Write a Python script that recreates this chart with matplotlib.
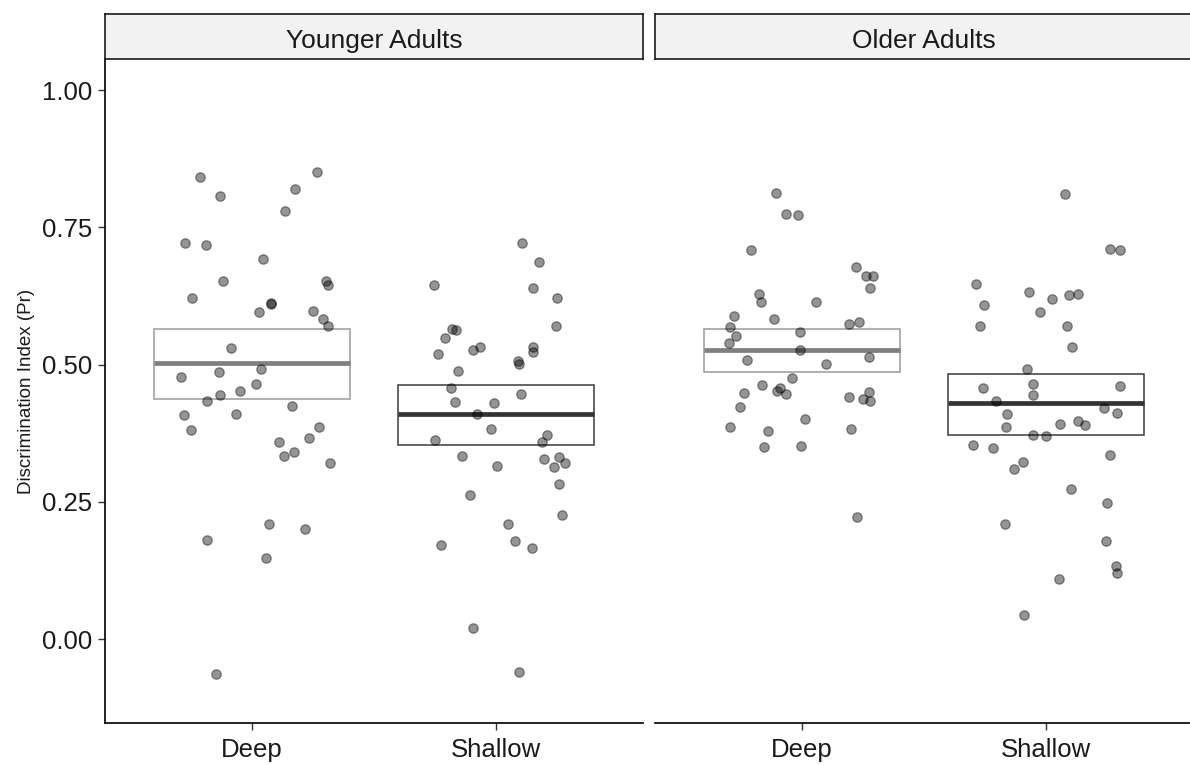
import matplotlib
matplotlib.use("Agg")
from matplotlib import pyplot as plt

groups = ["Younger Adults", "Older Adults"]
conditions = ["Deep", "Shallow"]

# jittered x positions (category 1 = Deep, 2 = Shallow) and Pr values
young_deep_x = [0.788, 1.266, 0.870, 1.178, 1.136, 0.728, 0.811, 1.047, 0.881, 1.305,
                1.312, 0.757, 1.079, 1.079, 1.029, 1.249, 1.290, 1.312, 0.917, 0.866,
                1.036, 0.711, 1.019, 0.953, 0.870, 0.818, 1.166, 0.722, 0.936, 0.752,
                1.277, 1.112, 1.235, 1.130, 1.173, 1.319, 1.071, 1.219, 0.818, 1.060, 0.853]
young_deep_y = [0.841, 0.850, 0.807, 0.820, 0.779, 0.721, 0.718, 0.693, 0.652, 0.652,
                0.645, 0.621, 0.612, 0.611, 0.596, 0.598, 0.583, 0.571, 0.530, 0.487,
                0.492, 0.477, 0.465, 0.452, 0.444, 0.434, 0.425, 0.408, 0.410, 0.380,
                0.387, 0.359, 0.366, 0.333, 0.341, 0.321, 0.209, 0.201, 0.181, 0.147, -0.064]

young_shallow_x = [2.106, 2.175, 1.746, 2.151, 2.249, 2.243, 1.819, 1.836, 1.792, 1.905,
                   1.934, 1.762, 2.151, 2.151, 2.088, 2.094, 1.843, 1.814, 2.100, 1.833,
                   1.991, 1.921, 1.980, 1.751, 2.209, 2.186, 1.860, 2.002, 2.197, 2.256,
                   2.236, 2.279, 2.256, 1.894, 2.270, 2.048, 1.773, 2.077, 2.145, 1.906, 2.094]
young_shallow_y = [0.721, 0.687, 0.644, 0.639, 0.621, 0.570, 0.565, 0.563, 0.548, 0.526,
                   0.532, 0.519, 0.532, 0.522, 0.507, 0.501, 0.489, 0.458, 0.446, 0.432,
                   0.430, 0.410, 0.382, 0.362, 0.372, 0.359, 0.333, 0.315, 0.328, 0.331,
                   0.313, 0.321, 0.282, 0.262, 0.226, 0.209, 0.171, 0.178, 0.165, 0.020, -0.061]

old_deep_x = [0.896, 0.936, 0.986, 0.791, 1.221, 1.262, 1.290, 1.279, 0.827, 0.832,
              1.060, 0.724, 0.885, 0.708, 1.192, 1.233, 0.993, 0.731, 0.701, 0.993,
              0.778, 1.274, 1.101, 0.959, 0.839, 0.764, 0.911, 0.900, 0.936, 1.192,
              1.274, 1.251, 1.279, 0.748, 1.015, 0.707, 0.862, 1.203, 0.845, 0.998, 1.227]
old_deep_y = [0.812, 0.774, 0.772, 0.708, 0.677, 0.662, 0.662, 0.639, 0.628, 0.613,
              0.614, 0.588, 0.583, 0.568, 0.573, 0.577, 0.560, 0.552, 0.540, 0.527,
              0.509, 0.514, 0.501, 0.476, 0.463, 0.449, 0.457, 0.452, 0.446, 0.440,
              0.450, 0.438, 0.433, 0.423, 0.400, 0.387, 0.379, 0.382, 0.349, 0.352, 0.222]

old_shallow_x = [2.077, 2.261, 2.302, 1.713, 1.930, 2.022, 2.094, 2.131, 1.747, 1.976,
                 1.729, 2.084, 2.107, 1.923, 1.742, 1.947, 1.947, 2.302, 1.793, 2.238,
                 2.290, 1.838, 1.834, 2.056, 2.130, 2.157, 1.947, 1.998, 1.702, 1.781,
                 2.261, 1.906, 1.867, 2.101, 2.250, 1.833, 2.245, 2.284, 2.290, 2.050, 1.908]
old_shallow_y = [0.810, 0.710, 0.708, 0.647, 0.632, 0.619, 0.626, 0.628, 0.608, 0.596,
                 0.570, 0.570, 0.532, 0.491, 0.458, 0.464, 0.445, 0.461, 0.433, 0.420,
                 0.412, 0.410, 0.387, 0.392, 0.398, 0.389, 0.371, 0.369, 0.353, 0.348,
                 0.336, 0.323, 0.310, 0.273, 0.247, 0.209, 0.179, 0.133, 0.120, 0.109, 0.043]

# mean and interval (lower, upper) per group x condition
young_mean = [0.503, 0.409]
young_low = [0.438, 0.353]
young_high = [0.565, 0.463]
old_mean = [0.526, 0.429]
old_low = [0.486, 0.371]
old_high = [0.565, 0.483]

yticks = [0.00, 0.25, 0.50, 0.75, 1.00]

plt.rcParams["font.family"] = ["Liberation Sans", "DejaVu Sans"]

fig = plt.figure(figsize=(11.9, 7.65), dpi=100)
W, H = 1190, 765
panel_l = [105, 655]
panel_w = 538
panel_top, panel_bot = 59, 723
strip_top = 14

box_edge = ["#9a9a9a", "#3a3a3a"]
mean_col = ["#7f7f7f", "#333333"]

panels = [
    (young_deep_x, young_deep_y, young_shallow_x, young_shallow_y, young_mean, young_low, young_high),
    (old_deep_x, old_deep_y, old_shallow_x, old_shallow_y, old_mean, old_low, old_high),
]

for i, (dx, dy, sx, sy, mean, low, high) in enumerate(panels):
    ax = fig.add_axes([panel_l[i] / W, 1 - panel_bot / H, panel_w / W, (panel_bot - panel_top) / H])
    ax.set_xlim(0.4, 2.6)
    ax.set_ylim(-0.153, 1.0565)
    for j in range(2):
        ax.bar(j + 1, high[j] - low[j], bottom=low[j], width=0.8, fill=False,
               edgecolor=box_edge[j], linewidth=1.1, zorder=2)
        ax.hlines(mean[j], j + 1 - 0.4, j + 1 + 0.4, color=mean_col[j], linewidth=3.4, zorder=3)
    ax.scatter(dx + sx, dy + sy, s=46, color="black", alpha=0.42, linewidths=0.9, zorder=4)

    ax.set_xticks([1, 2])
    ax.set_xticklabels(conditions, fontsize=18.5, color="#1a1a1a")
    ax.tick_params(axis="x", length=5, width=1, color="#333333", pad=6)
    for s in ["top", "right"]:
        ax.spines[s].set_visible(False)
    ax.spines["bottom"].set_linewidth(1.2)
    if i == 0:
        ax.spines["left"].set_linewidth(1.2)
        ax.set_yticks(yticks)
        ax.set_yticklabels([f"{t:.2f}" for t in yticks], fontsize=18.5, color="#1a1a1a")
        ax.tick_params(axis="y", length=5, width=1, color="#333333", pad=4)
        ax.set_ylabel("Discrimination Index (Pr)", fontsize=13.5, color="#1a1a1a", labelpad=5)
    else:
        ax.spines["left"].set_visible(False)
        ax.set_yticks([])

    st = fig.add_axes([panel_l[i] / W, 1 - panel_top / H, panel_w / W, (panel_top - strip_top) / H])
    st.set_facecolor("#f2f2f2")
    st.set_xticks([])
    st.set_yticks([])
    for s in st.spines.values():
        s.set_linewidth(1.2)
        s.set_color("#1a1a1a")
    st.text(0.5, 0.40, groups[i], ha="center", va="center", fontsize=19, color="#1a1a1a",
            transform=st.transAxes)

fig.savefig("out.png", dpi=100)
